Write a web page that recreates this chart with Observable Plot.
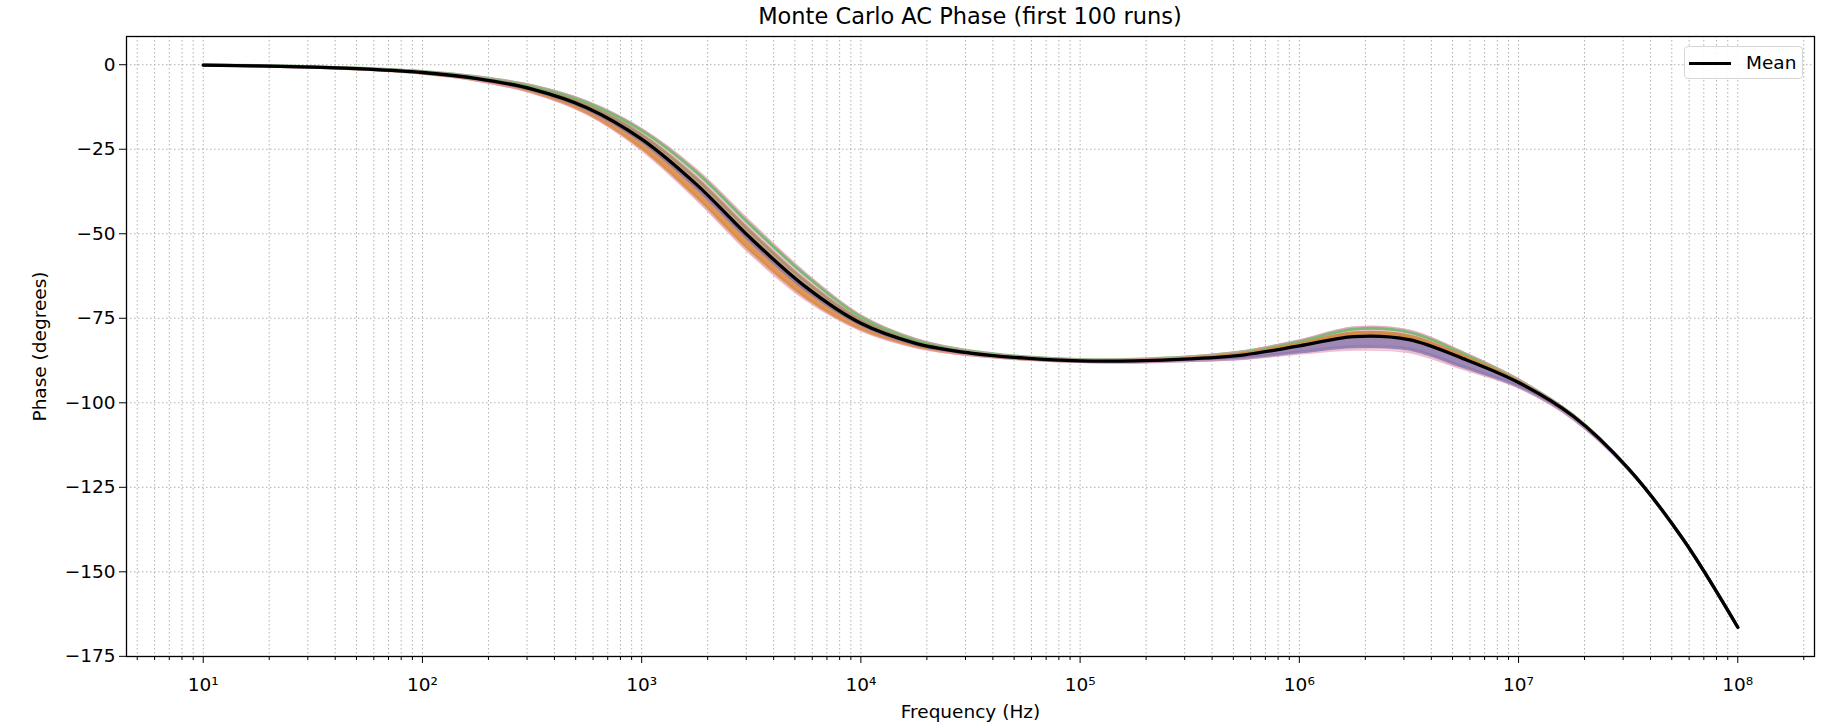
<!DOCTYPE html>
<html>
<head>
<meta charset="utf-8">
<script src="https://cdn.jsdelivr.net/npm/d3@7"></script>
<script src="https://cdn.jsdelivr.net/npm/@observablehq/plot@0.6"></script>
<style>
  html, body { margin: 0; padding: 0; background: #fff; }
  #wrap { position: relative; width: 1832px; height: 724px; font-family: "DejaVu Sans", sans-serif; }
  #title { position: absolute; left: 126px; width: 1688px; top: 4px; text-align: center; font-size: 22.5px; line-height: 24px; color: #000; }
  #legend { position: absolute; left: 1684px; top: 46px; width: 119px; height: 33px; border: 1px solid #d6d6d6; border-radius: 4px; background: rgba(255,255,255,0.85); box-sizing: border-box; }
  #legend .sw { position: absolute; left: 4px; top: 14.5px; width: 42px; height: 3.3px; background: #000; }
  #legend .lb { position: absolute; left: 61px; top: 4px; font-size: 18.5px; line-height: 24px; color: #000; }
</style>
</head>
<body>
<div id="wrap">
  <div id="chart"></div>
  <div id="title">Monte Carlo AC Phase (first 100 runs)</div>
  <div id="legend"><div class="sw"></div><div class="lb">Mean</div></div>
</div>
<script>
// Frequencies (Hz), quarter-decade steps
const freq = [10, 17.78, 31.62, 56.23, 100, 177.8, 316.2, 562.3, 1000, 1778, 3162, 5623, 1e4, 17783, 31623, 56234, 1e5, 177828, 316228, 562341, 1e6, 1.778e6, 3.162e6, 5.623e6, 1e7, 1.778e7, 3.162e7, 5.623e7, 1e8];
// Mean phase (degrees)
const meanPhase = [-0.1, -0.35, -0.7, -1.3, -2.3, -4.1, -7.2, -12.7, -22.0, -35.4, -51.5, -65.8, -76.5, -82.4, -85.3, -86.8, -87.6, -87.6, -87.0, -85.8, -83.2, -80.4, -81.3, -87.0, -94.0, -104.0, -119.4, -140.3, -166.4];
// Envelope of the 100 runs
const upperRun = [0, -0.25, -0.55, -1.05, -1.9, -3.4, -6.0, -10.7, -18.8, -30.9, -46.6, -61.6, -74.0, -81.0, -84.6, -86.3, -87.1, -87.0, -86.2, -84.6, -81.4, -77.6, -78.5, -85.0, -93.0, -103.6, -119.3, -140.3, -166.4];
const lowerRun = [-0.2, -0.45, -0.85, -1.55, -2.7, -4.8, -8.4, -14.7, -25.4, -40.0, -56.3, -69.7, -78.7, -83.7, -86.0, -87.3, -88.0, -88.2, -87.8, -87.1, -85.6, -84.4, -85.1, -90.2, -95.6, -104.9, -119.7, -140.4, -166.4];
// Representative individual runs
const greenRun = [-0.05, -0.27, -0.58, -1.1, -1.98, -3.54, -6.24, -11.1, -19.4, -31.8, -47.6, -62.4, -74.5, -81.3, -84.7, -86.4, -87.2, -87.1, -86.4, -84.8, -81.8, -78.2, -79.1, -85.4, -93.2, -103.7, -119.35, -140.3, -166.4];
const brownRun = [-0.07, -0.31, -0.64, -1.2, -2.14, -3.82, -6.72, -11.9, -20.7, -33.6, -49.5, -64.1, -75.5, -81.8, -85.0, -86.6, -87.4, -87.4, -86.7, -85.3, -82.5, -79.3, -80.2, -86.2, -93.6, -103.8, -119.4, -140.3, -166.4];
const orangeRun = [-0.18, -0.43, -0.82, -1.5, -2.62, -4.66, -8.16, -14.3, -24.7, -39.1, -55.3, -68.9, -78.3, -83.4, -85.9, -87.2, -87.8, -87.4, -86.7, -85.3, -82.5, -79.4, -80.3, -86.2, -93.6, -103.8, -119.4, -140.3, -166.4];
const purpleRun = [-0.12, -0.37, -0.73, -1.35, -2.38, -4.24, -7.44, -13.1, -22.6, -36.3, -52.4, -66.6, -76.9, -82.7, -85.5, -87.0, -87.8, -87.9, -87.5, -86.8, -85.0, -83.4, -84.1, -89.4, -95.2, -104.7, -119.6, -140.4, -166.4];

// Axis ticks
const majorTicks = [10, 100, 1e3, 1e4, 1e5, 1e6, 1e7, 1e8];
const majorLabels = ["10¹", "10²", "10³", "10⁴", "10⁵", "10⁶", "10⁷", "10⁸"];
const minorMultipliers = [2, 3, 4, 5, 6, 7, 8, 9];
const minorTicks = [1, ...majorTicks].flatMap(d => minorMultipliers.map(m => d * m)).filter(v => v > 4.47 && v < 2.24e8);
const yTicks = [0, -25, -50, -75, -100, -125, -150, -175];

const rows = freq.map((f, i) => ({
  f, mean: meanPhase[i], hi: upperRun[i], lo: lowerRun[i],
  green: greenRun[i], orange: orangeRun[i], purple: purpleRun[i], brown: brownRun[i]
}));

const gridStyle = {stroke: "#b0b0b0", strokeOpacity: 1, strokeWidth: 1, strokeDasharray: "1.5,2.5"};
const crv = "catmull-rom";

const chart = Plot.plot({
  width: 1832,
  height: 724,
  marginLeft: 126,
  marginRight: 18,
  marginTop: 36,
  marginBottom: 68,
  style: {fontFamily: "DejaVu Sans, sans-serif", fontSize: "18.5px", color: "#000", background: "#fff", overflow: "visible"},
  x: {type: "log", domain: [Math.pow(10, 0.65), Math.pow(10, 8.35)]},
  y: {domain: [-175.05, 8.35]},
  marks: [
    Plot.gridX(minorTicks.concat(majorTicks), gridStyle),
    Plot.gridY(yTicks, gridStyle),
    Plot.areaY(rows, {x: "f", y1: "lo", y2: "hi", fill: "#e7afc6", fillOpacity: 0.75, curve: crv}),
    Plot.areaY(rows, {x: "f", y1: "mean", y2: "brown", fill: "#b29a70", fillOpacity: 0.8, curve: crv}),
    Plot.areaY(rows, {x: "f", y1: "mean", y2: "purple", fill: "#8f7fb0", fillOpacity: 0.85, curve: crv}),
    Plot.areaY(rows, {x: "f", y1: "mean", y2: "orange", fill: "#d98f48", fillOpacity: 0.85, curve: crv}),
    Plot.line(rows, {x: "f", y: "brown", stroke: "#a98a62", strokeWidth: 3, strokeOpacity: 0.8, curve: crv}),
    Plot.line(rows, {x: "f", y: "green", stroke: "#6fb868", strokeWidth: 3, strokeOpacity: 0.9, curve: crv}),
    Plot.line(rows, {x: "f", y: "orange", stroke: "#dc8c40", strokeWidth: 2.5, strokeOpacity: 0.85, curve: crv}),
    Plot.line(rows, {x: "f", y: "purple", stroke: "#8a78ad", strokeWidth: 3, strokeOpacity: 0.85, curve: crv}),
    Plot.line(rows, {x: "f", y: "hi", stroke: "#e39ab8", strokeWidth: 1.5, strokeOpacity: 0.6, curve: crv}),
    Plot.line(rows, {x: "f", y: "lo", stroke: "#e39ab8", strokeWidth: 1.5, strokeOpacity: 0.6, curve: crv}),
    Plot.line(rows, {x: "f", y: "mean", stroke: "#000", strokeWidth: 3.3, curve: crv}),
    Plot.frame({stroke: "#000", strokeWidth: 1.3}),
    Plot.axisX(minorTicks, {tickSize: 4, tickFormat: () => "", label: null, stroke: "#000"}),
    Plot.axisX(majorTicks, {tickSize: 7, tickPadding: 14, tickFormat: d => majorLabels[majorTicks.indexOf(d)],
      label: "Frequency (Hz)", labelAnchor: "center", labelArrow: "none", labelOffset: 61, stroke: "#000"}),
    Plot.axisY(yTicks, {tickSize: 7, tickPadding: 4, label: "Phase (degrees)", labelAnchor: "center", labelArrow: "none", labelOffset: 94, stroke: "#000"})
  ]
});
document.getElementById("chart").appendChild(chart);
</script>
</body>
</html>
